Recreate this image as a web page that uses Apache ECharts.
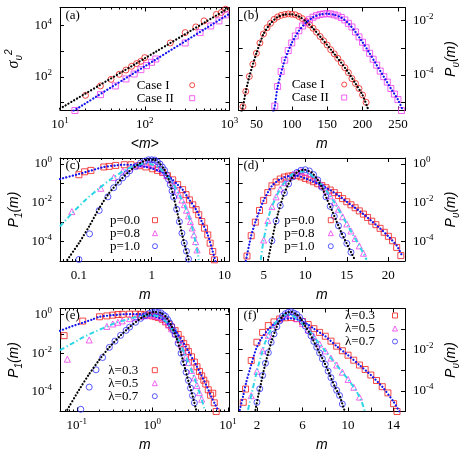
<!DOCTYPE html>
<html>
<head>
<meta charset="utf-8">
<script src="https://cdn.jsdelivr.net/npm/echarts@6/dist/echarts.min.js"></script>
<style>html,body{margin:0;padding:0;background:#fff}#chart{width:463px;height:458px}</style>
</head>
<body>
<div id="chart"></div>
<script>
// ---- (a) variance vs <m> ----
const aCaseIm = [20, 30, 40, 50, 60, 70, 80, 90, 100, 200, 300, 400, 500, 700, 800, 900];
const aCaseIv = [19.4, 45, 81, 127, 187, 260, 331, 407, 566, 2100, 5300, 8800, 15100, 27000, 32000, 43000];
const aCaseIIm = [15, 30, 45, 60, 75, 90, 105, 120, 135, 300, 450, 600, 750, 900];
const aCaseIIv = [5.0, 20.6, 45, 84, 131, 193, 277, 372, 500, 2100, 5300, 9600, 15100, 25800];
const aFitIm = [10, 100, 1000];
const aFitIv = [5.9, 530, 50000];
const aFitIIm = [14.5, 100, 1000];
const aFitIIv = [4.9, 260, 29000];

// ---- (b) P_v(m), linear m ----
const bCaseIm = [31, 35, 40, 45, 50, 55, 60, 65, 70, 75, 80, 85, 90, 95, 100, 105, 110, 115, 120, 125, 130, 135, 140, 145, 150, 155, 160, 165, 170, 175, 180, 185, 190, 195, 200, 205];
const bCaseIv = [6.9e-6, 2.5e-5, 8.9e-5, 2.5e-4, 6.3e-4, 1.5e-3, 3.2e-3, 5.4e-3, 7.9e-3, 0.011, 0.0135, 0.0155, 0.0166, 0.0174, 0.017, 0.0162, 0.0141, 0.0117, 9.3e-3, 7.1e-3, 5.2e-3, 3.7e-3, 2.6e-3, 1.8e-3, 1.26e-3, 8.5e-4, 6.0e-4, 4.1e-4, 2.8e-4, 1.86e-4, 1.23e-4, 7.4e-5, 4.9e-5, 3.2e-5, 1.86e-5, 1.0e-5];
const bCaseIIm = [76, 80, 85, 90, 95, 100, 105, 110, 115, 120, 125, 130, 135, 140, 145, 150, 155, 160, 165, 170, 175, 180, 185, 190, 195, 200, 205, 210, 215, 220, 225, 230, 235, 240, 245, 250, 255];
const bCaseIIv = [7.2e-6, 3.8e-5, 1.35e-4, 3.5e-4, 7.9e-4, 1.5e-3, 2.7e-3, 4.2e-3, 6.3e-3, 8.3e-3, 0.0107, 0.0132, 0.0151, 0.0166, 0.0174, 0.0178, 0.0174, 0.0162, 0.0148, 0.0129, 0.0105, 7.9e-3, 5.8e-3, 3.8e-3, 2.5e-3, 1.6e-3, 1.0e-3, 6.3e-4, 3.8e-4, 2.3e-4, 1.4e-4, 8.7e-5, 5.5e-5, 3.2e-5, 2.0e-5, 1.26e-5, 5e-6];
const bFitIm = [29, 31, 35, 40, 50, 60, 70, 80, 90, 100, 110, 120, 130, 140, 150, 160, 170, 180, 190, 200, 208];
const bFitIv = [4.5e-6, 7e-6, 2.5e-5, 8.9e-5, 6.3e-4, 3.2e-3, 7.9e-3, 0.0135, 0.0166, 0.017, 0.0141, 9.3e-3, 5.2e-3, 2.6e-3, 1.26e-3, 6e-4, 2.8e-4, 1.23e-4, 4.9e-5, 1.86e-5, 5.5e-6];
const bFitIIm = [74, 76, 80, 90, 100, 110, 120, 130, 140, 150, 160, 170, 180, 190, 200, 210, 220, 230, 240, 250, 257];
const bFitIIv = [4.5e-6, 7.2e-6, 3.8e-5, 3.5e-4, 1.5e-3, 4.2e-3, 8.3e-3, 0.0132, 0.0166, 0.0178, 0.0162, 0.0129, 7.9e-3, 3.8e-3, 1.6e-3, 6.3e-4, 2.3e-4, 8.7e-5, 3.2e-5, 1.26e-5, 5e-6];

// ---- (c) P_1(m), log-log, p ----
const cP0m = [0.1, 0.12, 0.146, 0.22, 0.26, 0.32, 0.42, 0.52, 0.67, 0.83, 1.03, 1.2, 1.41, 1.65, 1.94, 2.27, 2.66, 2.96, 3.29, 3.66, 4.07, 4.42, 4.87, 5.3, 5.89, 6.34, 6.89, 7.27];
const cP0v = [0.275, 0.39, 0.46, 0.69, 0.74, 0.83, 0.90, 0.90, 0.80, 0.69, 0.56, 0.46, 0.36, 0.245, 0.15, 0.085, 0.047, 0.026, 0.014, 7.8e-3, 4.4e-3, 2.4e-3, 1.07e-3, 4.9e-4, 2.2e-4, 8.3e-5, 3.1e-5, 1.15e-5];
const cP08m = [0.08, 0.2, 0.3, 0.4, 0.5, 0.6, 0.7, 0.8, 0.9, 1.0, 1.15, 1.3, 1.45, 1.6, 1.8, 2.0, 2.2, 2.4, 2.6, 2.8, 3.0, 3.2, 3.4, 3.6, 3.8, 4.0, 4.2];
const cP08v = [3.5e-3, 0.055, 0.2, 0.43, 0.62, 0.81, 0.95, 1.07, 1.02, 0.93, 0.74, 0.58, 0.38, 0.25, 0.145, 0.083, 0.045, 0.025, 0.0138, 7.9e-3, 4.1e-3, 2.1e-3, 1.07e-3, 5e-4, 2.2e-4, 1e-4, 3.7e-5];
const cP1m = [0.1, 0.14, 0.19, 0.25, 0.3, 0.35, 0.4, 0.45, 0.5, 0.6, 0.7, 0.8, 0.9, 1.0, 1.1, 1.2, 1.3, 1.4, 1.5, 1.6, 1.7, 1.8, 1.9, 2.0, 2.2, 2.4, 2.6, 2.8, 3.0, 3.2];
const cP1v = [1.2e-5, 2.5e-4, 4e-3, 0.02, 0.059, 0.115, 0.19, 0.30, 0.44, 0.73, 1.1, 1.38, 1.62, 1.62, 1.57, 1.26, 0.98, 0.68, 0.47, 0.27, 0.16, 0.085, 0.04, 0.0195, 4.6e-3, 1.05e-3, 2.7e-4, 8.5e-5, 3.2e-5, 1.26e-5];
const cFit0m = [0.055, 0.1, 0.15, 0.22, 0.32, 0.42, 0.52, 0.67, 0.83, 1.03, 1.2, 1.41, 1.65, 1.94, 2.27, 2.66, 3.29, 4.07, 4.87, 5.89, 6.89, 7.6];
const cFit0v = [0.166, 0.3, 0.46, 0.69, 0.83, 0.9, 0.9, 0.8, 0.69, 0.56, 0.46, 0.36, 0.245, 0.15, 0.085, 0.047, 0.014, 4.4e-3, 1.07e-3, 2.2e-4, 3.1e-5, 8e-6];
const cFit08m = [0.055, 0.081, 0.124, 0.19, 0.289, 0.44, 0.607, 0.83, 1.03, 1.27, 1.57, 1.94, 2.39, 2.81, 3.29, 3.66, 3.98, 4.29, 4.43];
const cFit08v = [6e-4, 2.95e-3, 0.0141, 0.056, 0.186, 0.50, 0.83, 1.10, 0.90, 0.62, 0.275, 0.102, 0.0257, 0.0078, 0.0016, 4.1e-4, 1.0e-4, 2.5e-5, 1.15e-5];
const cFit1m = [0.0693, 0.1, 0.138, 0.19, 0.26, 0.357, 0.49, 0.674, 0.877, 1.08, 1.27, 1.49, 1.75, 1.94, 2.15, 2.39, 2.66, 2.96, 3.22];
const cFit1v = [1.15e-5, 8.3e-5, 6e-4, 5.2e-3, 0.0316, 0.126, 0.41, 1.02, 1.62, 1.62, 1.1, 0.5, 0.126, 0.0316, 6.5e-3, 1.1e-3, 1.8e-4, 3.7e-5, 1.15e-5];

// ---- (d) P_v(m), linear m, p ----
const dP0m = [3, 3.5, 4, 4.5, 5, 5.5, 6, 6.5, 7, 7.5, 8, 8.5, 9, 9.5, 10, 10.5, 11, 11.5, 12, 12.5, 13, 13.5, 14, 14.5, 15, 15.5, 16, 16.5, 17, 17.5, 18, 18.5, 19, 19.5, 20, 20.5, 21, 21.5];
const dP0v = [1.8e-5, 2.0e-4, 1.0e-3, 4.0e-3, 0.0132, 0.033, 0.074, 0.117, 0.166, 0.209, 0.234, 0.245, 0.245, 0.214, 0.178, 0.148, 0.120, 0.095, 0.076, 0.059, 0.045, 0.033, 0.0234, 0.0162, 0.0112, 7.8e-3, 5.5e-3, 3.8e-3, 2.6e-3, 1.74e-3, 1.12e-3, 7.4e-4, 4.8e-4, 3.0e-4, 1.86e-4, 1.1e-4, 5e-5, 1.9e-5];
const dP08m = [5, 5.5, 6, 6.5, 7, 7.5, 8, 8.5, 9, 9.5, 10, 10.5, 11, 11.5, 12, 12.5, 13, 13.5, 14, 14.5, 15, 15.5, 16, 16.5, 17];
const dP08v = [1.2e-4, 1.2e-3, 6.3e-3, 0.020, 0.051, 0.107, 0.19, 0.295, 0.37, 0.41, 0.38, 0.31, 0.214, 0.135, 0.081, 0.044, 0.0224, 0.0105, 4.6e-3, 1.9e-3, 8.1e-4, 3.5e-4, 1.45e-4, 6e-5, 2.5e-5];
const dP1m = [6, 6.5, 7, 7.5, 8, 8.5, 9, 9.5, 10, 10.5, 11, 11.5, 12, 12.5, 13, 13.5, 14, 14.5, 15, 15.5];
const dP1v = [1.1e-4, 1.15e-3, 7.1e-3, 0.032, 0.093, 0.214, 0.36, 0.47, 0.50, 0.43, 0.28, 0.15, 0.063, 0.02, 6.5e-3, 2.0e-3, 6.5e-4, 2.1e-4, 8e-5, 2.8e-5];
const dFit0m = [2.85, 3.5, 4, 5, 6, 7, 8, 9, 10, 11, 12, 13, 14, 15, 16, 17, 18, 19, 20, 21, 21.7];
const dFit0v = [1e-5, 2e-4, 1e-3, 0.0132, 0.074, 0.166, 0.234, 0.245, 0.178, 0.12, 0.076, 0.045, 0.0234, 0.0112, 5.5e-3, 2.6e-3, 1.12e-3, 4.8e-4, 1.86e-4, 6.3e-5, 1.7e-5];
const dFit08m = [4.65, 4.93, 5.33, 5.73, 6.34, 6.94, 7.74, 8.55, 9.55, 10.35, 11.16, 11.96, 12.76, 13.57, 14.37, 15.17, 15.98, 16.78, 17.38];
const dFit08v = [1.15e-5, 8.3e-5, 6e-4, 2.95e-3, 0.0141, 0.047, 0.151, 0.31, 0.41, 0.34, 0.186, 0.085, 0.0316, 9.5e-3, 2.4e-3, 6e-4, 1.5e-4, 3.7e-5, 1.15e-5];
const dFit1m = [5.53, 5.94, 6.34, 6.74, 7.34, 7.94, 8.55, 9.15, 9.95, 10.76, 11.36, 11.96, 12.56, 13.17, 13.77, 14.37, 14.97, 15.57, 15.98];
const dFit1v = [1.15e-5, 8.3e-5, 6e-4, 2.95e-3, 0.021, 0.085, 0.23, 0.41, 0.50, 0.36, 0.186, 0.069, 0.0174, 4.4e-3, 1.1e-3, 2.75e-4, 8.3e-5, 2.5e-5, 1.15e-5];

// ---- (e) P_1(m), log-log, lambda ----
const eL3m = [0.068, 0.12, 0.2, 0.25, 0.3, 0.35, 0.4, 0.5, 0.6, 0.7, 0.8, 0.9, 1.0, 1.1, 1.2, 1.35, 1.5, 1.65, 1.8, 2.0, 2.2, 2.4, 2.6, 2.8, 3.0, 3.3, 3.6, 3.9, 4.2, 4.5, 4.8, 5.1, 5.5, 5.9, 6.3, 6.6, 7.0];
const eL3v = [0.08, 0.45, 0.75, 0.83, 0.91, 0.98, 1.0, 1.02, 1.02, 1.0, 0.95, 0.91, 0.83, 0.76, 0.68, 0.56, 0.41, 0.30, 0.22, 0.145, 0.091, 0.052, 0.032, 0.0195, 0.0123, 6.5e-3, 3.5e-3, 2.0e-3, 1.15e-3, 6.8e-4, 4.1e-4, 2.6e-4, 1.3e-4, 6.9e-5, 8.7e-5, 2.8e-5, 1e-5];
const eL5m = [0.075, 0.146, 0.25, 0.3, 0.35, 0.4, 0.5, 0.6, 0.7, 0.8, 0.9, 1.0, 1.1, 1.2, 1.35, 1.5, 1.65, 1.8, 2.0, 2.2, 2.4, 2.6, 2.8, 3.0, 3.3, 3.6, 3.9, 4.2, 4.5];
const eL5v = [4.9e-3, 0.048, 0.24, 0.32, 0.39, 0.46, 0.60, 0.71, 0.79, 0.85, 0.88, 0.90, 0.83, 0.77, 0.63, 0.44, 0.28, 0.18, 0.1, 0.05, 0.0275, 0.0123, 6.3e-3, 3.3e-3, 1.3e-3, 5.4e-4, 2.2e-4, 9.3e-5, 4.3e-5];
const eL7m = [0.113, 0.146, 0.18, 0.22, 0.27, 0.32, 0.38, 0.45, 0.5, 0.6, 0.7, 0.8, 0.9, 1.0, 1.1, 1.2, 1.3, 1.4, 1.5, 1.6, 1.7, 1.8, 1.9, 2.0, 2.2, 2.4, 2.6, 2.8, 3.0, 3.2, 3.4, 3.6];
const eL7v = [1.3e-5, 1.8e-4, 1.4e-3, 6e-3, 0.02, 0.042, 0.083, 0.15, 0.22, 0.39, 0.62, 0.85, 1.1, 1.23, 1.32, 1.26, 1.2, 0.95, 0.78, 0.54, 0.36, 0.245, 0.148, 0.093, 0.032, 0.01, 3.2e-3, 1.05e-3, 4e-4, 1.6e-4, 6.6e-5, 2.8e-5];
const eFit3m = [0.06, 0.0875, 0.119, 0.161, 0.198, 0.297, 0.447, 0.671, 0.912, 1.12, 1.37, 1.68, 2.06, 2.53, 3.1, 3.8, 4.43, 5.16, 6.01, 6.65, 7.36];
const eFit3v = [0.143, 0.247, 0.366, 0.546, 0.745, 0.906, 1.02, 1.02, 0.906, 0.745, 0.546, 0.282, 0.127, 0.039, 0.01, 2.45e-3, 7.6e-4, 2.3e-4, 5.9e-5, 2.7e-5, 1.23e-5];
const eFit5m = [0.06, 0.0875, 0.119, 0.161, 0.219, 0.297, 0.404, 0.547, 0.743, 1.01, 1.24, 1.52, 1.86, 2.28, 2.66, 3.1, 3.61, 4.08, 4.52, 4.9];
const eFit5v = [0.0145, 0.032, 0.063, 0.112, 0.19, 0.316, 0.468, 0.66, 0.838, 0.906, 0.745, 0.417, 0.155, 0.039, 0.01, 2.45e-3, 5.1e-4, 1.29e-4, 4e-5, 1.23e-5];
const eFit7m = [0.075, 0.107, 0.146, 0.198, 0.269, 0.365, 0.494, 0.671, 0.867, 1.06, 1.3, 1.52, 1.77, 2.06, 2.4, 2.74, 3.1, 3.43, 3.8];
const eFit7v = [1.23e-5, 1.29e-4, 8.5e-4, 4.5e-3, 0.02, 0.071, 0.214, 0.55, 1.02, 1.34, 1.19, 0.745, 0.282, 0.071, 0.01, 1.38e-3, 2.3e-4, 5.9e-5, 1.23e-5];

// ---- (f) P_v(m), linear m, lambda ----
const fL3m = [0.8, 1.0, 1.5, 2.0, 2.5, 3.0, 3.5, 4.0, 4.5, 5.0, 5.5, 6.0, 6.5, 7.0, 7.5, 8.0, 8.5, 9.0, 9.5, 10.0, 10.5, 11.0, 11.5, 12.0, 12.5, 13.0, 13.5, 14.0, 14.3];
const fL3v = [2.8e-5, 1.23e-4, 3.0e-3, 0.023, 0.069, 0.148, 0.224, 0.31, 0.355, 0.363, 0.324, 0.234, 0.166, 0.105, 0.069, 0.045, 0.026, 0.0148, 8.9e-3, 5.4e-3, 3.1e-3, 1.8e-3, 1.1e-3, 5.9e-4, 3.2e-4, 1.6e-4, 8e-5, 2.4e-5, 1e-5];
const fL5m = [1.5, 2.0, 2.5, 3.0, 3.5, 4.0, 4.5, 5.0, 5.5, 6.0, 6.5, 7.0, 7.5, 8.0, 8.5, 9.0, 9.5, 10.0, 10.5, 11.0];
const fL5v = [5.9e-5, 8.9e-4, 8.9e-3, 0.05, 0.162, 0.32, 0.5, 0.49, 0.32, 0.186, 0.091, 0.043, 0.019, 8.7e-3, 3.9e-3, 1.8e-3, 8.1e-4, 3.6e-4, 1.5e-4, 5e-5];
const fL7m = [2, 2.25, 2.5, 2.75, 3, 3.25, 3.5, 3.75, 4, 4.25, 4.5, 4.75, 5, 5.25, 5.5, 5.75, 6, 6.25, 6.5, 6.75, 7, 7.25, 7.5, 7.75, 8, 8.25, 8.5, 8.75, 9, 9.25, 9.5];
const fL7v = [2.8e-5, 1.26e-4, 5.6e-4, 2.2e-3, 7.2e-3, 0.023, 0.058, 0.13, 0.25, 0.42, 0.56, 0.65, 0.69, 0.6, 0.51, 0.37, 0.24, 0.14, 0.083, 0.047, 0.025, 0.0132, 6.9e-3, 3.6e-3, 1.95e-3, 9.1e-4, 4.4e-4, 2.1e-4, 1.07e-4, 6e-5, 2.3e-5];
const fFit3m = [0.49, 0.78, 1.07, 1.37, 1.66, 1.95, 2.39, 2.98, 3.57, 4.3, 5.03, 5.77, 6.5, 7.0, 8.0, 9.0, 10.0, 11.0, 12.0, 13.0, 14.0, 14.5];
const fFit3v = [1.2e-5, 5.4e-5, 2.8e-4, 1.05e-3, 3.8e-3, 0.0117, 0.035, 0.095, 0.186, 0.295, 0.33, 0.27, 0.166, 0.105, 0.045, 0.0148, 5.4e-3, 1.8e-3, 5.9e-4, 1.6e-4, 3e-5, 1e-5];
const fFit5m = [1.22, 1.81, 2.1, 2.39, 2.69, 3.13, 3.57, 4.15, 4.59, 5.03, 5.47, 6.06, 6.64, 7.23, 7.81, 8.4, 8.99, 9.57, 10.16, 10.75, 11.19, 11.48];
const fFit5v = [1.2e-5, 3.4e-4, 1.5e-3, 5.5e-3, 0.0204, 0.074, 0.186, 0.40, 0.525, 0.48, 0.33, 0.174, 0.074, 0.0295, 0.0117, 4.6e-3, 1.8e-3, 7.2e-4, 2.8e-4, 9.3e-5, 3.1e-5, 1e-5];
const fFit7m = [1.87, 2.1, 2.33, 2.54, 2.75, 2.98, 3.27, 3.57, 3.86, 4.21, 4.59, 5.03, 5.47, 5.85, 6.2, 6.64, 7.08, 7.52, 7.96, 8.4, 8.84, 9.28, 9.57, 9.72];
const fFit7v = [1.2e-5, 5.4e-5, 1.95e-4, 7.2e-4, 2.2e-3, 6.6e-3, 0.0245, 0.074, 0.186, 0.40, 0.62, 0.69, 0.52, 0.33, 0.155, 0.062, 0.0204, 6.6e-3, 2.2e-3, 5.9e-4, 1.6e-4, 5.4e-5, 1.74e-5, 1e-5];

// ---- ticks ----
const aXTicks = [10, 100, 1000];
const aXMinor = [20, 30, 40, 50, 60, 70, 80, 90, 200, 300, 400, 500, 600, 700, 800, 900];
const aYTicks = [10, 100, 1000, 10000];
const aYLabels = [100, 10000];
const bXTicks = [50, 100, 150, 200, 250];
const bYTicks = [1e-5, 1e-4, 1e-3, 1e-2];
const bYLabels = [1e-4, 1e-2];
const logXTicks = [0.1, 1, 10];
const logXMinor = [0.06, 0.07, 0.08, 0.09, 0.2, 0.3, 0.4, 0.5, 0.6, 0.7, 0.8, 0.9, 2, 3, 4, 5, 6, 7, 8, 9];
const pYTicks = [1e-5, 1e-4, 1e-3, 1e-2, 1e-1, 1];
const pYLabels = [1e-4, 1e-2, 1];
const dXTicks = [5, 10, 15, 20];
const fXTicks = [2, 4, 6, 8, 10, 12, 14];
const fXLabels = [2, 6, 10, 14];
const fYLabels = [1e-4, 1e-2];

const SERIF = 'Liberation Serif';
const SANS = 'Liberation Sans';
const RED = '#f01c1c', MAG = '#ee3cee', BLUE = '#3030ff', BDOT = '#1414f0', CYAN = '#2ed6e6';

const zip = (xs, ys) => xs.map((x, i) => [x, ys[i]]);
const pow10 = v => '10{sup|' + Math.round(Math.log10(v)) + '}';
const plain = v => String(v);

const LABEL_RICH = { sup: { fontFamily: SERIF, fontSize: 9, verticalAlign: 'top', lineHeight: 9, color: '#000' } };
const TITLE = {
  fontFamily: SANS, fontStyle: 'italic', fontSize: 14, color: '#000', lineHeight: 20,
  rich: {
    sub: { fontFamily: SANS, fontStyle: 'italic', fontSize: 10, verticalAlign: 'bottom', lineHeight: 10, color: '#000' },
    sup: { fontFamily: SANS, fontSize: 10, verticalAlign: 'top', lineHeight: 10, color: '#000' },
    up: { fontFamily: SERIF, fontSize: 16, color: '#000' }
  }
};

const grids = [], xAxes = [], yAxes = [], series = [], legends = [], graphics = [];

function label(show, values, fmt, margin) {
  return { show, customValues: values, formatter: fmt, margin, color: '#000', fontFamily: SERIF, fontSize: 13, lineHeight: 17, rich: LABEL_RICH };
}

function panel(rect, x, y) {
  const gi = grids.length;
  grids.push({ left: rect[0], top: rect[1], width: rect[2], height: rect[3] });
  const line = { show: true, onZero: false, lineStyle: { color: '#000', width: 1 } };
  const xb = { gridIndex: gi, type: x.type, min: x.min, max: x.max, splitLine: { show: false }, silent: true };
  const yb = { gridIndex: gi, type: y.type, min: y.min, max: y.max, splitLine: { show: false }, silent: true };
  const xi = xAxes.length;
  ['bottom', 'top'].forEach((pos, k) => {
    xAxes.push(Object.assign({}, xb, {
      position: pos, axisLine: line,
      axisTick: { show: true, inside: true, length: 4, customValues: x.ticks, lineStyle: { color: '#000' } },
      axisLabel: label(k === 0, x.labels, x.fmt, 6),
      name: k === 0 ? x.name : '', nameLocation: 'middle', nameGap: x.gap, nameTextStyle: TITLE
    }));
  });
  if (x.minor) {
    ['bottom', 'top'].forEach(pos => {
      xAxes.push(Object.assign({}, xb, {
        position: pos, axisLine: { show: false },
        axisTick: { show: true, inside: true, length: 2, customValues: x.minor, lineStyle: { color: '#000' } },
        axisLabel: { show: false }
      }));
    });
  }
  const yi = yAxes.length;
  const sides = y.side === 'left' ? ['left', 'right'] : ['right', 'left'];
  sides.forEach((pos, k) => {
    yAxes.push(Object.assign({}, yb, {
      position: pos, axisLine: line,
      axisTick: { show: true, inside: true, length: 4, customValues: y.ticks, lineStyle: { color: '#000' } },
      axisLabel: label(k === 0, y.labels, y.fmt, 8),
      name: k === 0 ? y.name : '', nameLocation: 'middle', nameGap: y.gap, nameRotate: 90, nameTextStyle: TITLE
    }));
  });
  return { xi, yi };
}

function pts(ax, name, xs, ys, symbol, color) {
  series.push({
    type: 'scatter', name, xAxisIndex: ax.xi, yAxisIndex: ax.yi, data: zip(xs, ys),
    symbol, symbolSize: 6,
    itemStyle: { color: 'rgba(0,0,0,0)', borderColor: color, borderWidth: 1 }, z: 2, silent: true
  });
}
const dotted = color => ({ color, width: 2.2, type: [0.1, 3.2], cap: 'round' });
const dashdot = { color: CYAN, width: 2, type: [5, 2.5, 1.2, 2.5] };
function fit(ax, xs, ys, style) {
  series.push({
    type: 'line', xAxisIndex: ax.xi, yAxisIndex: ax.yi, data: zip(xs, ys),
    symbol: 'none', smooth: 0.2, lineStyle: style, z: 3, silent: true
  });
}
function key(names, left, top, w) {
  legends.push({
    data: names, left, top, orient: 'vertical', align: 'right', itemWidth: 5, itemHeight: 5, itemGap: 0,
    padding: 0, selectedMode: false, itemStyle: { borderWidth: 1 },
    formatter: n => '{t|' + n + '}',
    textStyle: { fontFamily: SERIF, fontSize: 13, color: '#000', rich: { t: { width: w, align: 'left', lineHeight: 14, fontFamily: SERIF, fontSize: 13 } } }
  });
}
function tag(text, left, top) {
  graphics.push({ type: 'text', left, top, silent: true, style: { text, font: '13px "Liberation Serif"', fill: '#000' } });
}

// layout
const L1 = 60, W1 = 169.5, L2 = 238.7, W2 = 166.3, H = 103;
const T1 = 7.5, T2 = 158, T3 = 308.5;

const pa = panel([L1, T1, W1, H],
  { type: 'log', min: 10, max: 1000, ticks: aXTicks, minor: aXMinor, labels: aXTicks, fmt: pow10, name: '<m>', gap: 24 },
  { type: 'log', min: 5, max: 50000, ticks: aYTicks, labels: aYLabels, fmt: pow10, side: 'left', name: '{up|σ}{sub|υ}{sup|2}', gap: 36 });
fit(pa, aFitIm, aFitIv, dotted('#000'));
fit(pa, aFitIIm, aFitIIv, dotted(BDOT));
pts(pa, 'Case I', aCaseIm, aCaseIv, 'circle', RED);
pts(pa, 'Case II', aCaseIIm, aCaseIIv, 'rect', MAG);
key(['Case I', 'Case II'], 136.7, 78.7, 48);
tag('(a)', 65.5, 9.5);

const pb = panel([L2, T1, W2, H],
  { type: 'value', min: 25, max: 260, ticks: bXTicks, labels: bXTicks, fmt: plain, name: 'm', gap: 24 },
  { type: 'log', min: 5e-6, max: 0.03, ticks: bYTicks, labels: bYLabels, fmt: pow10, side: 'right', name: 'P{sub|υ}(m)', gap: 36 });
fit(pb, bFitIm, bFitIv, dotted('#000'));
fit(pb, bFitIIm, bFitIIv, dotted(BDOT));
pts(pb, 'Case I', bCaseIm, bCaseIv, 'circle', RED);
pts(pb, 'Case II', bCaseIIm, bCaseIIv, 'rect', MAG);
key(['Case I', 'Case II'], 291.7, 78, 45);
tag('(b)', 243.5, 9.5);

const pc = panel([L1, T2, W1, H],
  { type: 'log', min: 0.055, max: 11.7, ticks: logXTicks, minor: logXMinor, labels: logXTicks, fmt: plain, name: 'm', gap: 24 },
  { type: 'log', min: 1e-5, max: 2, ticks: pYTicks, labels: pYLabels, fmt: pow10, side: 'left', name: 'P{sub|1}(m)', gap: 36 });
fit(pc, cFit0m, cFit0v, dotted(BDOT));
fit(pc, cFit08m, cFit08v, dashdot);
fit(pc, cFit1m, cFit1v, dotted('#000'));
pts(pc, 'p=0.0', cP0m, cP0v, 'rect', RED);
pts(pc, 'p=0.8', cP08m, cP08v, 'triangle', MAG);
pts(pc, 'p=1.0', cP1m, cP1v, 'circle', BLUE);
key(['p=0.0', 'p=0.8', 'p=1.0'], 110, 213.7, 37.5);
tag('(c)', 65.5, 159.5);

const pd = panel([L2, T2, W2, H],
  { type: 'value', min: 2, max: 22, ticks: dXTicks, labels: dXTicks, fmt: plain, name: 'm', gap: 24 },
  { type: 'log', min: 1e-5, max: 2, ticks: pYTicks, labels: pYLabels, fmt: pow10, side: 'right', name: 'P{sub|υ}(m)', gap: 36 });
fit(pd, dFit0m, dFit0v, dotted(BDOT));
fit(pd, dFit08m, dFit08v, dashdot);
fit(pd, dFit1m, dFit1v, dotted('#000'));
pts(pd, 'p=0.0', dP0m, dP0v, 'rect', RED);
pts(pd, 'p=0.8', dP08m, dP08v, 'triangle', MAG);
pts(pd, 'p=1.0', dP1m, dP1v, 'circle', BLUE);
key(['p=0.0', 'p=0.8', 'p=1.0'], 284.3, 213.7, 39);
tag('(d)', 243.5, 159.5);

const pe = panel([L1, T3, W1, H],
  { type: 'log', min: 0.06, max: 10.5, ticks: logXTicks, minor: logXMinor.slice(1), labels: logXTicks, fmt: pow10, name: 'm', gap: 22 },
  { type: 'log', min: 1e-5, max: 2, ticks: pYTicks, labels: pYLabels, fmt: pow10, side: 'left', name: 'P{sub|1}(m)', gap: 36 });
fit(pe, eFit3m, eFit3v, dotted(BDOT));
fit(pe, eFit5m, eFit5v, dashdot);
fit(pe, eFit7m, eFit7v, dotted('#000'));
pts(pe, 'λ=0.3', eL3m, eL3v, 'rect', RED);
pts(pe, 'λ=0.5', eL5m, eL5v, 'triangle', MAG);
pts(pe, 'λ=0.7', eL7m, eL7v, 'circle', BLUE);
key(['λ=0.3', 'λ=0.5', 'λ=0.7'], 108.3, 363.7, 39);
tag('(e)', 65.5, 309.5);

const pf = panel([L2, T3, W2, H],
  { type: 'value', min: 0.4, max: 15, ticks: fXTicks, labels: fXLabels, fmt: plain, name: 'm', gap: 22 },
  { type: 'log', min: 1e-5, max: 1, ticks: pYTicks, labels: fYLabels, fmt: pow10, side: 'right', name: 'P{sub|υ}(m)', gap: 36 });
fit(pf, fFit3m, fFit3v, dotted(BDOT));
fit(pf, fFit5m, fFit5v, dashdot);
fit(pf, fFit7m, fFit7v, dotted('#000'));
pts(pf, 'λ=0.3', fL3m, fL3v, 'rect', RED);
pts(pf, 'λ=0.5', fL5m, fL5v, 'triangle', MAG);
pts(pf, 'λ=0.7', fL7m, fL7v, 'circle', BLUE);
key(['λ=0.3', 'λ=0.5', 'λ=0.7'], 345, 309, 42.5);
tag('(f)', 243.5, 309.5);

const chart = echarts.init(document.getElementById('chart'));
chart.setOption({
  animation: false,
  backgroundColor: '#fff',
  grid: grids, xAxis: xAxes, yAxis: yAxes, series, legend: legends, graphic: graphics
});
</script>
</body>
</html>
